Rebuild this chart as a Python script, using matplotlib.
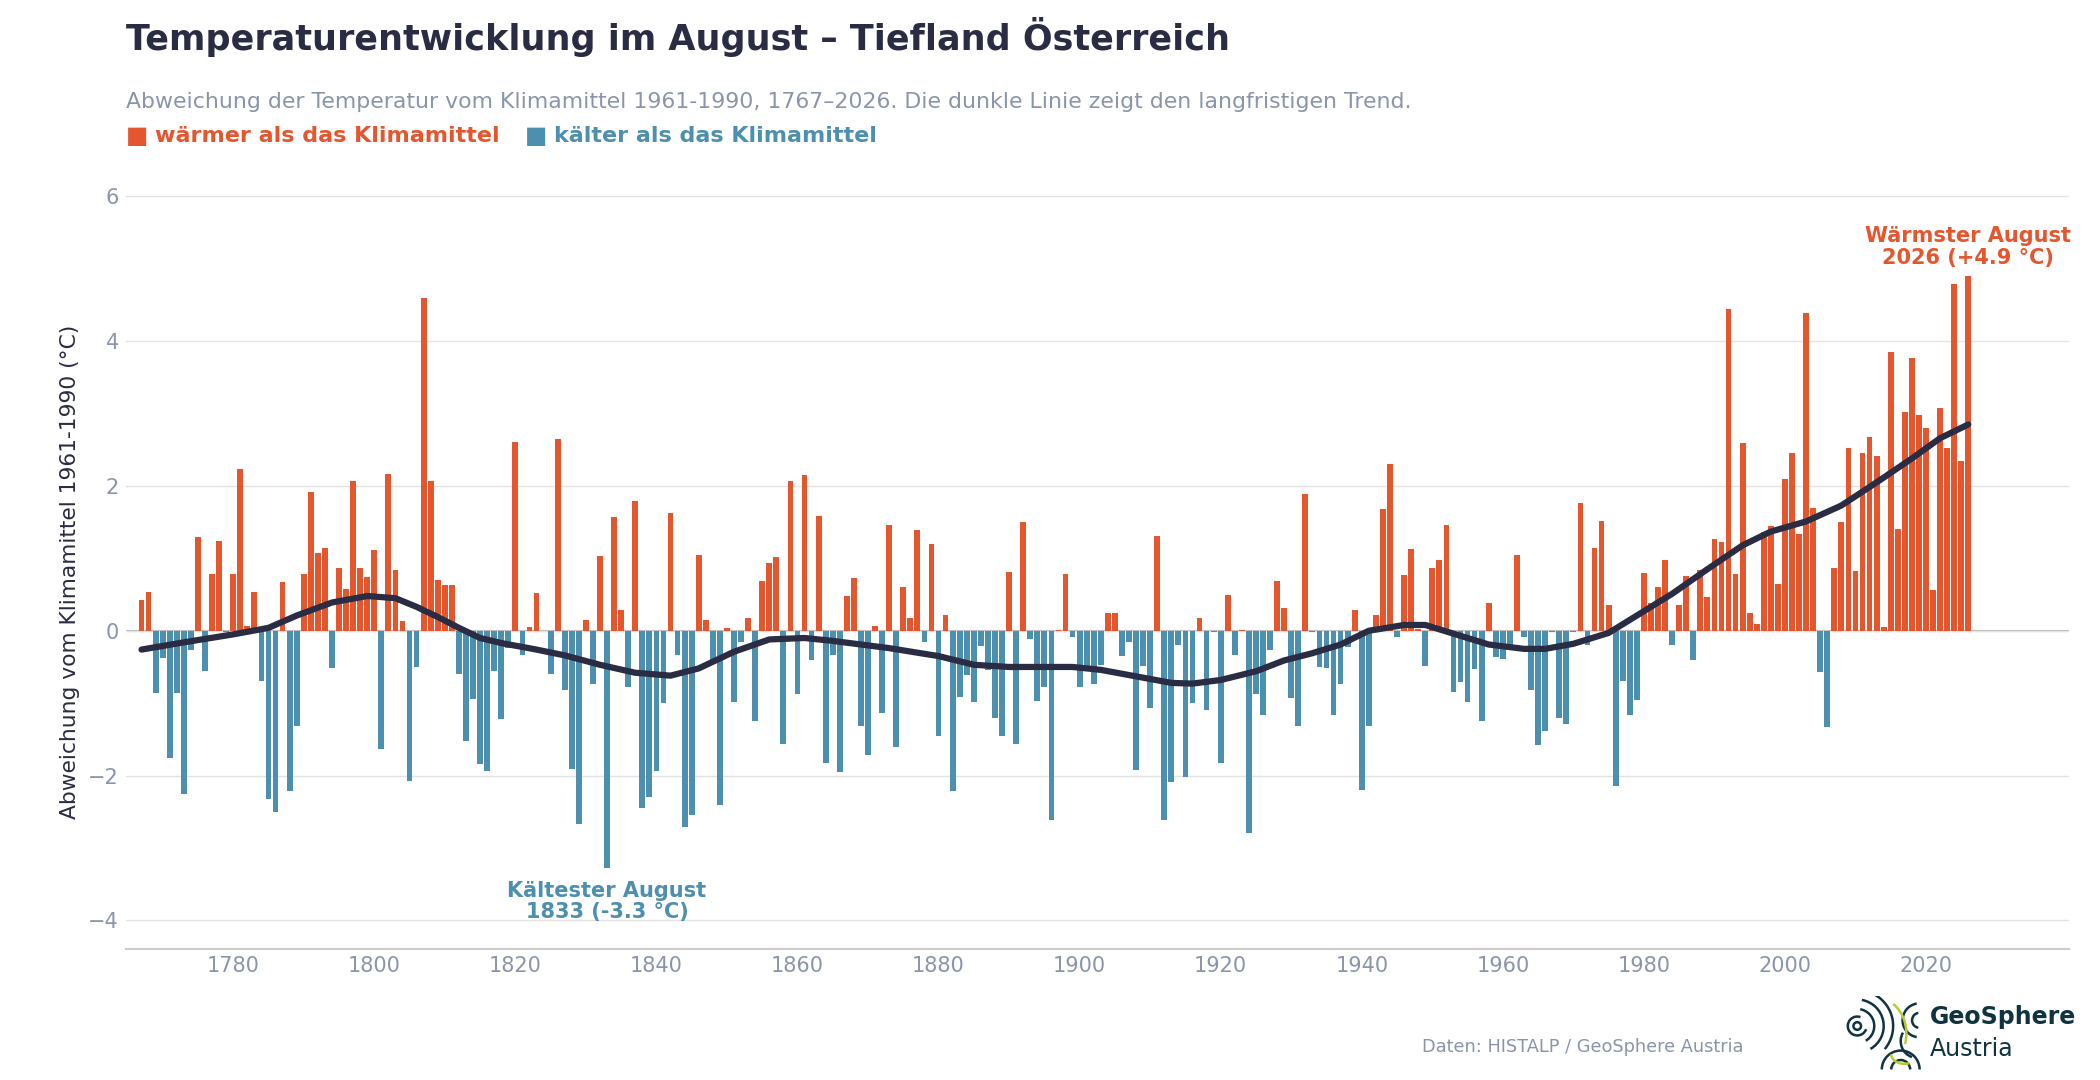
import numpy as np
import matplotlib
matplotlib.use("Agg")
from matplotlib import pyplot as plt
from matplotlib.patches import Arc

# August temperature anomaly vs. 1961-1990, Tiefland Österreich, 1767-2026
years = list(range(1767, 2027))
anomaly = [
    0.43, 0.54, -0.86, -0.37, -1.76, -0.86, -2.26, -0.26, 1.30, -0.55,
    0.78, 1.24, -0.02, 0.78, 2.24, 0.07, 0.54, -0.69, -2.33, -2.50,
    0.68, -2.22, -1.32, 0.78, 1.91, 1.08, 1.14, -0.52, 0.87, 0.57,
    2.07, 0.87, 0.74,
    1.11, -1.64, 2.17, 0.84, 0.14, -2.07, -0.50, 4.60, 2.07, 0.70,
    0.63, 0.63, -0.60, -1.52, -0.94, -1.84, -1.94, -0.56, -1.22, -0.24,
    2.61, -0.34, 0.05, 0.52, -0.01, -0.60, 2.65, -0.82, -1.91, -2.67,
    0.15, -0.73, 1.03, -3.27, 1.57, 0.28, -0.78, 1.79, -2.45, -2.29,
    -1.94, -1.00, 1.63, -0.33, -2.71, -2.55, 1.05, 0.15, -0.46, -2.41,
    0.04, -0.98, -0.16, 0.18, -1.25, 0.69, 0.94, 1.02, -1.56, 2.07,
    -0.88, 2.15, -0.41, 1.59, -1.83, -0.34, -1.95, 0.48, 0.73, -1.32,
    -1.72, 0.07, -1.14, 1.46, -1.61, 0.61, 0.18, 1.39, -0.16, 1.20,
    -1.45, 0.22, -2.21, -0.92, -0.61, -0.98, -0.21, -0.54, -1.20, -1.46,
    0.81, -1.57, 1.50, -0.12, -0.97, -0.77, -2.62, 0.01, 0.79, -0.09,
    -0.77, -0.48, -0.74, -0.47, 0.25, 0.24, -0.35, -0.16, -1.93, -0.48,
    -1.07, 1.31, -2.62, -2.09, -0.20, -2.02, -1.00, 0.18, -1.10, -0.02,
    -1.83, 0.50, -0.34, 0.01, -2.79, -0.88, -1.17, -0.26, 0.69, 0.32,
    -0.93, -1.32, 1.89, -0.02, -0.50, -0.52, -1.17, -0.73, -0.22, 0.29,
    -2.20, -1.31, 0.22, 1.68, 2.31, -0.08, 0.77, 1.13, 0.02, -0.48,
    0.87, 0.98, 1.46, -0.85, -0.71, -0.99, -0.53, -1.24, 0.39, -0.36,
    -0.39, -0.22, 1.05, -0.08, -0.82, -1.58, -1.39, -0.02, -1.20, -1.29,
    -0.02, 1.77, -0.20, 1.14, 1.51, 0.35, -2.15, -0.69, -1.16, -0.96,
    0.80, 0.39, 0.61, 0.98, -0.19, 0.36, 0.75, -0.40, 0.84, 0.47,
    1.27, 1.23, 4.44, 0.79, 2.59, 0.25, 0.10, 1.37, 1.45, 0.65,
    2.10, 2.45, 1.34, 4.39, 1.70, -0.57, -1.33, 0.87, 1.50, 2.53,
    0.83, 2.45, 2.68, 2.41, 0.05, 3.85, 1.41, 3.02, 3.77, 2.98,
    2.80, 0.56, 3.07, 2.53, 4.79, 2.35, 4.90,
]

# long-term trend
trend_years = [1767, 1773, 1780, 1785, 1789, 1794, 1799, 1803, 1806, 1809,
               1812, 1815, 1818, 1823, 1827, 1832, 1837, 1842, 1846, 1851,
               1856, 1861, 1865, 1873, 1880, 1885, 1890, 1894, 1899, 1903,
               1908, 1913, 1916, 1920, 1925, 1929, 1933, 1937, 1941, 1946,
               1949, 1953, 1958, 1963, 1966, 1970, 1975, 1979, 1984, 1989,
               1994, 1998, 2003, 2008, 2013, 2018, 2022, 2026]
trend_values = [-0.26, -0.16, -0.05, 0.04, 0.21, 0.39, 0.48, 0.45, 0.33, 0.19,
                0.04, -0.10, -0.17, -0.26, -0.34, -0.47, -0.58, -0.62, -0.52, -0.29,
                -0.12, -0.10, -0.14, -0.24, -0.35, -0.47, -0.50, -0.50, -0.50, -0.54,
                -0.63, -0.72, -0.73, -0.68, -0.56, -0.41, -0.31, -0.19, 0.0, 0.08,
                0.08, -0.04, -0.19, -0.25, -0.25, -0.18, -0.03, 0.21, 0.51, 0.85,
                1.18, 1.37, 1.51, 1.73, 2.05, 2.38, 2.66, 2.85]

WARM = '#e4572e'
COLD = '#4d8fae'
DARK = '#2a2c43'
GREY = '#8a95ab'

fig = plt.figure(figsize=(21, 10.8), dpi=100)
ax = fig.add_axes([0.06, 0.121, 0.925, 0.724])

colors = [WARM if v >= 0 else COLD for v in anomaly]
ax.bar(years, anomaly, width=0.82, color=colors, zorder=2)
ax.plot(trend_years, trend_values, color=DARK, lw=4.5, solid_capstyle='round', zorder=3)
ax.axhline(0, color='#b8b8b8', lw=1.5, zorder=1)

ax.set_xlim(1764.8, 2040.2)
ax.set_ylim(-4.4, 6.4)
ax.set_yticks([-4, -2, 0, 2, 4, 6])
ax.set_xticks(range(1780, 2021, 20))
ax.grid(axis='y', color='#e3e3e3', lw=1, zorder=0)
ax.tick_params(length=0, labelsize=15, labelcolor=GREY, pad=5)
for s in ['top', 'right', 'left']:
    ax.spines[s].set_visible(False)
ax.spines['bottom'].set_color('#cccccc')
ax.spines['bottom'].set_linewidth(1.5)
ax.set_ylabel('Abweichung vom Klimamittel 1961-1990 (°C)', fontsize=15.7, color=DARK,
              labelpad=6, y=0.483)

ax.text(1833, -3.74, 'Kältester August\n1833 (-3.3 °C)', color=COLD, fontsize=15,
        fontweight='bold', ha='center', va='center', linespacing=1.1)
ax.text(2026, 5.3, 'Wärmster August\n2026 (+4.9 °C)', color=WARM, fontsize=15,
        fontweight='bold', ha='center', va='center', linespacing=1.1)

fig.text(0.06, 0.966, 'Temperaturentwicklung im August – Tiefland Österreich',
         fontsize=25.2, fontweight='bold', color=DARK, va='center')
fig.text(0.06, 0.906, 'Abweichung der Temperatur vom Klimamittel 1961-1990, 1767–2026. '
         'Die dunkle Linie zeigt den langfristigen Trend.',
         fontsize=15.85, color=GREY, va='center')
fig.text(0.06, 0.874, '■', fontsize=17, color=WARM, va='center')
fig.text(0.074, 0.874, 'wärmer als das Klimamittel', fontsize=16, fontweight='bold',
         color=WARM, va='center')
fig.text(0.25, 0.874, '■', fontsize=17, color=COLD, va='center')
fig.text(0.264, 0.874, 'kälter als das Klimamittel', fontsize=16, fontweight='bold',
         color=COLD, va='center')

fig.text(0.677, 0.031, 'Daten: HISTALP / GeoSphere Austria', fontsize=12.8, color=GREY,
         va='center')

# logo
LOGO = '#0f3440'
LIME = '#b9cc2e'
fig.text(0.919, 0.058, 'GeoSphere', fontsize=17, fontweight='bold', color=LOGO, va='center')
fig.text(0.919, 0.029, 'Austria', fontsize=17, color=LOGO, va='center')
lax = fig.add_axes([0.879, 0.008, 0.036, 0.07])
lax.set_xlim(-1, 1)
lax.set_ylim(-1, 1)
lax.set_aspect('equal')
lax.axis('off')
lax.add_patch(Arc((-0.7, 0.2), 0.2, 0.2, theta1=0, theta2=360, color=LOGO, lw=1.8))
lax.add_patch(Arc((-0.7, 0.2), 0.5, 0.5, theta1=70, theta2=340, color=LOGO, lw=1.8))
for r in [0.45, 0.7]:
    lax.add_patch(Arc((-0.7, 0.2), r * 2, r * 2, theta1=-60, theta2=80, color=LOGO, lw=1.8))
lax.add_patch(Arc((-0.7, 0.2), 1.9, 1.9, theta1=-40, theta2=60, color=LOGO, lw=1.8))
for r in [0.2, 0.45]:
    lax.add_patch(Arc((0.95, 0.35), r * 2, r * 2, theta1=100, theta2=260, color=LOGO, lw=1.8))
for r in [0.25, 0.5]:
    lax.add_patch(Arc((0.45, -0.95), r * 2, r * 2, theta1=0, theta2=180, color=LOGO, lw=1.8))
lax.add_patch(Arc((0.9, -0.2), 0.9, 0.9, theta1=150, theta2=250, color=LOGO, lw=1.8))
lax.add_patch(Arc((-0.2, 0.0), 1.6, 1.9, theta1=-20, theta2=60, color=LIME, lw=1.8))
lax.add_patch(Arc((0.55, -0.55), 0.7, 0.5, theta1=180, theta2=300, color=LIME, lw=1.8))

fig.savefig('out.png', dpi=100, facecolor='white')
